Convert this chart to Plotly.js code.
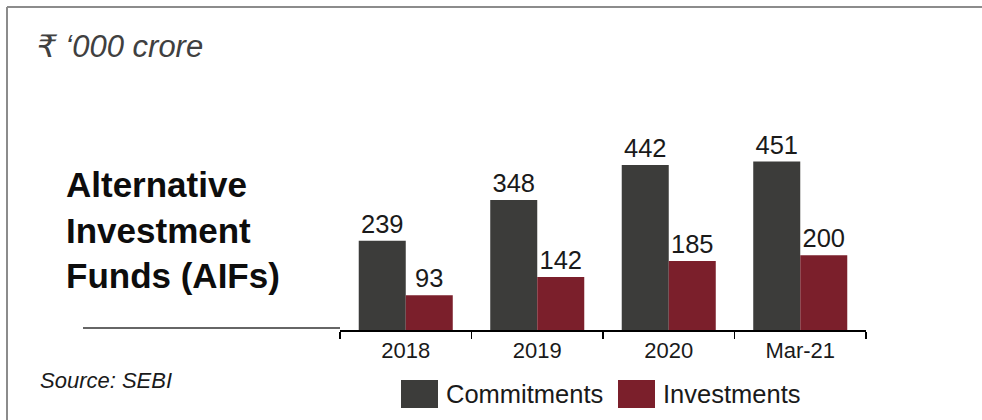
<!DOCTYPE html>
<html>
<head>
<meta charset="utf-8">
<script src="https://cdn.plot.ly/plotly-3.0.1.min.js"></script>
<style>
html,body{margin:0;padding:0;background:#fff;overflow:hidden;}
#chart{width:982px;height:420px;}
</style>
</head>
<body>
<div id="chart"></div>
<script>
// Data
const categories = ["2018", "2019", "2020", "Mar-21"];
const seriesNames = ["Commitments", "Investments"];
const commitments = [239, 348, 442, 451];
const investments = [93, 142, 185, 200];
const seriesColors = ["#3c3c3a", "#7b1f2b"];
const unitLabel = "₹ ‘000 crore";
const titleLabel = "Alternative<br>Investment<br>Funds (AIFs)";
const sourceLabel = "Source: SEBI";

const FONT = "'Liberation Sans', Arial, 'DejaVu Sans', sans-serif";

// pixel -> paper helpers (plot area: x 340..866, y 132..330)
const L = 340, R = 116, T = 132, B = 90, W = 982, H = 420;
const PW = W - L - R, PH = H - T - B;
const px = v => (v - L) / PW;
const py = v => (H - B - v) / PH;

const values = [commitments, investments];
const traces = seriesNames.map((name, i) => ({
  type: "bar",
  name: name,
  x: categories,
  y: values[i],
  text: values[i].map(String),
  textposition: "outside",
  textfont: {family: FONT, size: 25.5, color: "#1a1a1a"},
  constraintext: "none",
  cliponaxis: false,
  marker: {color: seriesColors[i], line: {width: 0}},
  hoverinfo: "skip",
  showlegend: false
}));

const shapes = [
  // frame top and left
  {type: "line", xref: "paper", yref: "paper", x0: px(7), x1: px(982), y0: py(7), y1: py(7), line: {color: "#8c8c8c", width: 2}},
  {type: "line", xref: "paper", yref: "paper", x0: px(7), x1: px(7), y0: py(7), y1: py(420), line: {color: "#8c8c8c", width: 2}},
  // separator line left of axis
  {type: "line", xref: "paper", yref: "paper", x0: px(83), x1: px(340), y0: py(328), y1: py(328), line: {color: "#333333", width: 1.3}}
];
const annotations = [
  {xref: "paper", yref: "paper", x: px(35), y: py(46), xanchor: "left", yanchor: "middle", showarrow: false,
   text: "<i>" + unitLabel + "</i>", font: {family: FONT, size: 31, color: "#404040"}},
  {xref: "paper", yref: "paper", x: px(64), y: py(230), xanchor: "left", yanchor: "middle", align: "left", showarrow: false,
   text: "<b>" + titleLabel + "</b>", font: {family: FONT, size: 35, color: "#0d0d0d"}},
  {xref: "paper", yref: "paper", x: px(38), y: py(380), xanchor: "left", yanchor: "middle", showarrow: false,
   text: "<i>" + sourceLabel + "</i>", font: {family: FONT, size: 22, color: "#1a1a1a"}}
];
// manual legend
const legendX = [401, 618];
seriesNames.forEach((name, i) => {
  shapes.push({type: "rect", xref: "paper", yref: "paper", x0: px(legendX[i]), x1: px(legendX[i] + 37),
    y0: py(380), y1: py(408), fillcolor: seriesColors[i], line: {width: 0}});
  annotations.push({xref: "paper", yref: "paper", x: px(legendX[i] + 43), y: py(394), xanchor: "left", yanchor: "middle",
    showarrow: false, text: name, font: {family: FONT, size: 25.5, color: "#1a1a1a"}});
});

const layout = {
  width: W, height: H,
  margin: {l: L, r: R, t: T, b: B, pad: 0},
  paper_bgcolor: "#ffffff",
  plot_bgcolor: "#ffffff",
  barmode: "group",
  bargap: 0.285,
  bargroupgap: 0,
  showlegend: false,
  xaxis: {
    type: "category",
    range: [-0.5, 3.5],
    showline: true, linecolor: "#000000", linewidth: 2,
    ticks: "outside", tickson: "boundaries", ticklen: 7, tickwidth: 1.5, tickcolor: "#000000",
    tickfont: {family: FONT, size: 22, color: "#1a1a1a"},
    showgrid: false, zeroline: false, fixedrange: true
  },
  yaxis: {
    range: [0, 530],
    visible: false, showgrid: false, zeroline: false, fixedrange: true
  },
  shapes: shapes,
  annotations: annotations,
  font: {family: FONT}
};

Plotly.newPlot("chart", traces, layout, {displayModeBar: false, staticPlot: true});
</script>
</body>
</html>
